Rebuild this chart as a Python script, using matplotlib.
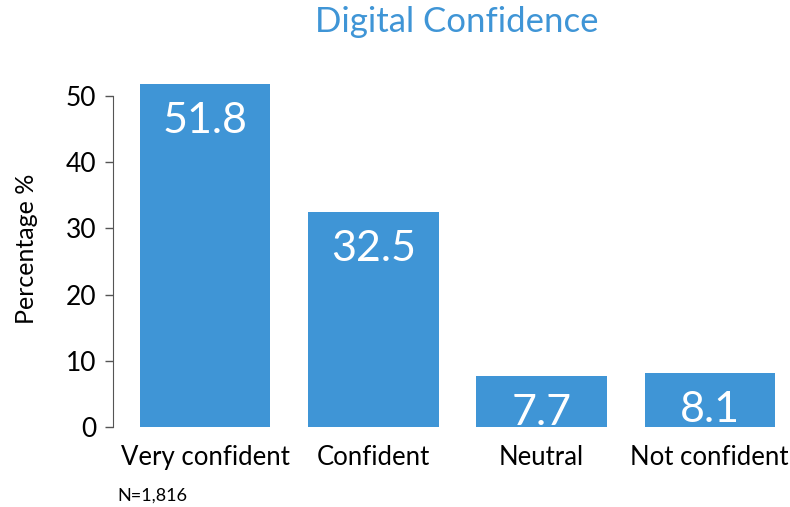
import matplotlib.pyplot as plt

categories = ["Very confident", "Confident", "Neutral", "Not confident"]
values = [51.8, 32.5, 7.7, 8.1]
yticks = [0, 10, 20, 30, 40, 50]
n_note = "N=1,816"

BLUE = "#3f95d6"
plt.rcParams['font.family'] = ['Lato', 'DejaVu Sans']

fig = plt.figure(figsize=(7.9, 5.07), dpi=100)
# axes box in figure coords: left edge at spine (x=113px), y=0 at 427px, y=50 at 96px
ax = fig.add_axes([113 / 790, (507 - 427) / 507, (782 - 113) / 790, (427 - 70) / 507])

x = list(range(len(categories)))
ax.bar(x, values, width=0.775, color=BLUE)

ax.set_xlim(-0.548, 3.43)
ax.set_ylim(0, 50 * (427 - 70) / (427 - 96))

for xi, v in zip(x, values):
    ax.annotate(f"{v}", (xi, v), xytext=(0, -13), textcoords="offset points",
                ha="center", va="top", color="white", fontsize=31)

ax.set_yticks(yticks)
ax.tick_params(axis="y", labelsize=19, length=6, width=1, color="#555555", pad=6)
ax.set_xticks(x)
ax.set_xticklabels(categories, fontsize=18.5)
ax.tick_params(axis="x", length=0, pad=13)

for s in ["top", "right", "bottom"]:
    ax.spines[s].set_visible(False)
ax.spines["left"].set_bounds(0, 50)
ax.spines["left"].set_color("#555555")

ax.set_ylabel("Percentage %", fontsize=18, labelpad=20)

fig.text(457 / 790, 1 - 22 / 507, "Digital Confidence", ha="center", va="center",
         color=BLUE, fontsize=25)
fig.text(117 / 790, 1 - 496 / 507, n_note, ha="left", va="center", fontsize=13)

fig.savefig("out.png", dpi=100)
